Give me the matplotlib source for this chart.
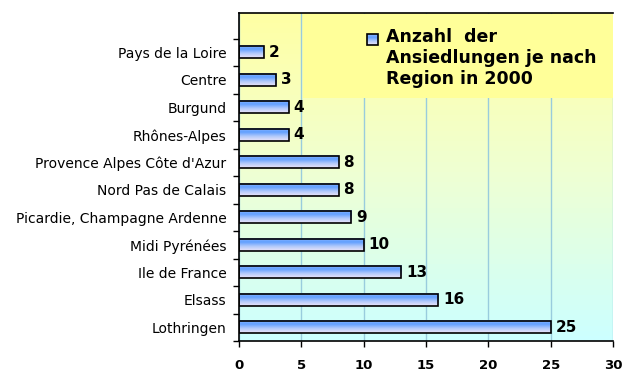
import numpy as np
import matplotlib
matplotlib.use('Agg')
import matplotlib.pyplot as plt
from matplotlib.colors import LinearSegmentedColormap
from matplotlib.patches import Rectangle

plt.rcParams['font.family'] = ['DejaVu Sans']

# data, bottom to top
regions = ['Lothringen', 'Elsass', 'Ile de France', 'Midi Pyrénées',
           'Picardie, Champagne Ardenne', 'Nord Pas de Calais',
           'Provence Alpes Côte d\'Azur', 'Rhônes-Alpes', 'Burgund',
           'Centre', 'Pays de la Loire']
counts = [25, 16, 13, 10, 9, 8, 8, 4, 4, 3, 2]
legend_label = 'Anzahl  der\nAnsiedlungen je nach\nRegion in 2000'
x_ticks = [0, 5, 10, 15, 20, 25, 30]

bar_cmap = LinearSegmentedColormap.from_list(
    'bar', [(0, '#90b8ff'), (0.3, '#619fff'), (0.65, '#b4cafa'), (1, '#ece4f8')])
bg_cmap = LinearSegmentedColormap.from_list(
    'bg', [(0, '#ffffa4'), (0.25, '#f8ffbc'), (0.5, '#eeffd4'), (1, '#ccffff')])
grad = np.linspace(0, 1, 64).reshape(-1, 1)

fig = plt.figure(figsize=(6.26, 3.82), dpi=100)
ax = fig.add_axes([239 / 626, 41 / 382, 374 / 626, 328 / 382])

# background gradient
ax.imshow(grad, cmap=bg_cmap, extent=[0, 1, 0, 1], transform=ax.transAxes,
          aspect='auto', zorder=-1)

y = np.arange(len(regions))
bars = ax.barh(y, counts, height=0.44, facecolor='none', edgecolor='black',
               linewidth=1.2, zorder=3)
for b, v in zip(bars, counts):
    x0, y0 = b.get_x(), b.get_y()
    w, h = b.get_width(), b.get_height()
    ax.imshow(grad, cmap=bar_cmap, extent=[x0, x0 + w, y0, y0 + h],
              aspect='auto', zorder=2)
    ax.annotate(str(v), (x0 + w, y0 + h / 2), xytext=(3.5, 0),
                textcoords='offset points', va='center', ha='left',
                fontsize=11, fontweight='bold')

ax.set_xlim(0, 30)
ax.set_ylim(-0.5, 11.43)
ax.set_xticks(x_ticks)
ax.set_xticklabels([str(t) for t in x_ticks], fontweight='bold', fontsize=9.5)
ax.set_yticks(y)
ax.set_yticklabels(regions, fontsize=10)
ax.set_yticks(np.arange(len(regions) + 1) - 0.5, minor=True)
ax.tick_params(axis='y', which='major', length=0, pad=9)
ax.tick_params(axis='y', which='minor', length=4, width=1, direction='out')
ax.tick_params(axis='x', length=4, width=1, pad=9)

ax.set_axisbelow(True)
ax.grid(True, axis='x', color='#99ccdd', linewidth=1)
ax.spines['right'].set_visible(False)
for s in ['left', 'bottom', 'top']:
    ax.spines[s].set_linewidth(1.2)

# legend box
ax.add_patch(Rectangle((0.171, 0.741), 0.829, 0.255, transform=ax.transAxes,
                       facecolor='#ffff99', edgecolor='none', zorder=4))
mx, my = (367 - 239) / 374, (341 - 45) / 328
mw, mh = 11 / 374, 11 / 328
ax.imshow(grad, cmap=bar_cmap, extent=[mx, mx + mw, my, my + mh],
          transform=ax.transAxes, aspect='auto', zorder=5)
ax.add_patch(Rectangle((mx, my), mw, mh, transform=ax.transAxes,
                       facecolor='none', edgecolor='black', linewidth=1.2,
                       zorder=6))
ax.text((386 - 239) / 374, (341 - 28) / 328, legend_label,
        transform=ax.transAxes, ha='left', va='top', fontsize=12.5,
        fontweight='bold', linespacing=1.2, zorder=6)

fig.savefig('out.png', dpi=100)
